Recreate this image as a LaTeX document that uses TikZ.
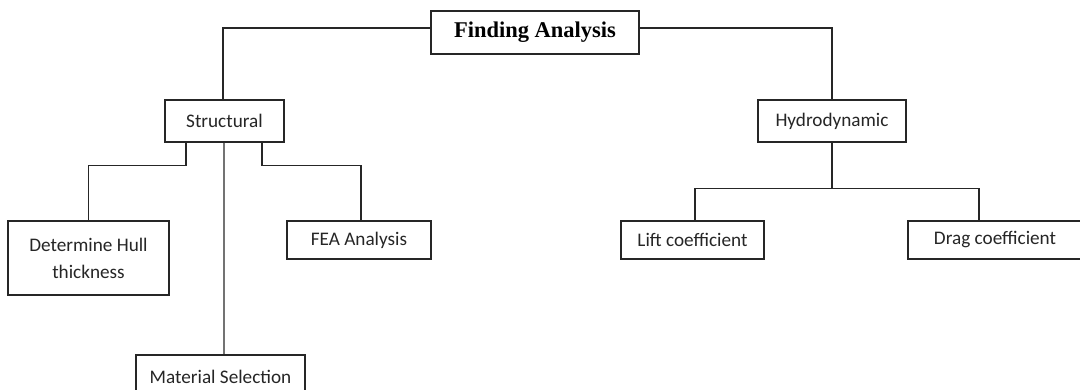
\documentclass[tikz,border=0pt]{standalone}
\usepackage{fontspec}
\setmainfont{Carlito}
\newfontfamily\titlefont{Liberation Serif}
\begin{document}
\begin{tikzpicture}[x=1pt,y=-1pt,
  box/.style={draw=black!85,line width=1.3pt,rectangle,inner sep=0pt,align=center,font=\fontsize{19.2}{27}\selectfont,text=black!85},
  conn/.style={draw=black!85,line width=1.3pt},
  graylink/.style={draw=black!55,line width=1.3pt}]
\clip (0,0) rectangle (1080,390);
\fill[white] (0,0) rectangle (1080,390);
\node[box,minimum width=208,minimum height=43,font=\titlefont\bfseries\fontsize{22.5}{26}\selectfont,text=black] (title) at (535,32.5) {Finding Analysis};
\node[box,minimum width=119,minimum height=42] (struct) at (224.5,121) {Structural};
\node[box,minimum width=148,minimum height=42] (hydro) at (832,121) {Hydrodynamic};
\node[box,minimum width=161,minimum height=74] (hull) at (88.5,258) {Determine Hull\\thickness};
\node[box,minimum width=144,minimum height=38] (fea) at (359,240) {FEA Analysis};
\node[box,minimum width=169,minimum height=44] (mat) at (220.5,377) {Material Selection};
\node[box,minimum width=143,minimum height=38] (lift) at (692.5,240) {Lift coefficient};
\node[box,minimum width=174,minimum height=38] (drag) at (995,240) {Drag coefficient};
\draw[conn] ([yshift=4.5]title.west) -| ([xshift=-1.5]struct.north);
\draw[conn] ([yshift=4.5]title.east) -| (hydro.north);
\draw[conn] ([xshift=-38.5]struct.south) -- ++(0,23) -| (hull.north);
\draw[conn] ([xshift=37.5]struct.south) -- ++(0,23) -| ([xshift=2]fea.north);
\draw[graylink] ([xshift=-0.5]struct.south) -- ([xshift=3.5]mat.north);
\draw[conn] (hydro.south) -- ++(0,46) -| ([xshift=2.5]lift.north);
\draw[conn] (hydro.south) -- ++(0,46) -| ([xshift=-16]drag.north);
\end{tikzpicture}
\end{document}
